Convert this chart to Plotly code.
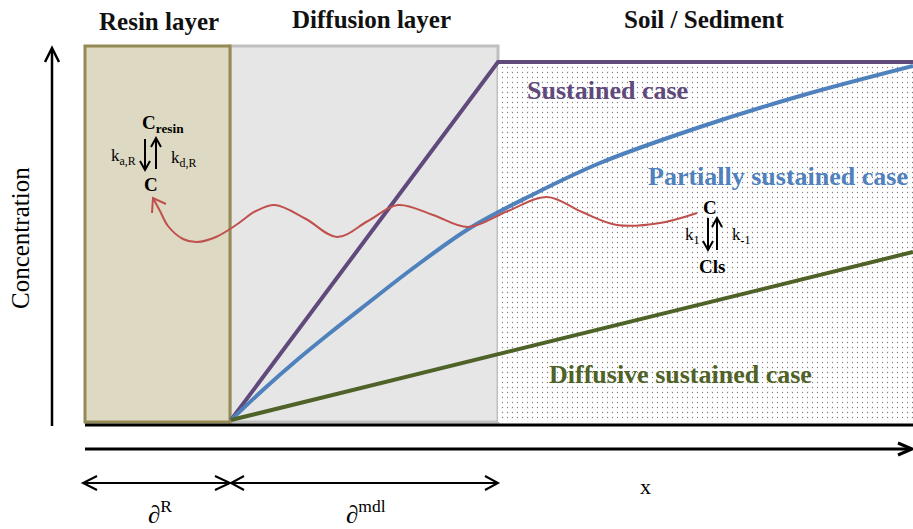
import plotly.graph_objects as go

# ---------------- data (diagram units, y grows downward) ----------------
layer_edges_x = [85, 230, 498, 913]          # resin | diffusion | soil
layer_top_y = 46
layer_bottom_y = 422
soil_top_y = 63

sustained_x = [231, 498, 913]
sustained_y = [420, 62, 62]

partial_x = [231, 264, 297, 330, 363, 416, 470, 530, 600, 700, 800, 913]
partial_y = [420, 389, 360, 333, 307, 266, 228, 196, 163, 127, 96, 66]

diffusive_x = [231, 913]
diffusive_y = [420, 252]

wave_x = [153, 160, 168, 183, 197, 216, 236, 256, 275, 306, 337, 368, 398, 433, 468, 508, 547, 582, 617, 660, 697]
wave_y = [198, 211, 226, 239, 242, 237, 225, 211, 205, 219, 237, 221, 205, 215, 227, 211, 197, 212, 225, 223, 213]

headers = ["Resin layer", "Diffusion layer", "Soil / Sediment"]
header_x = [159, 371, 704]
header_y = [21, 19, 19]

case_labels = ["Sustained case", "Partially sustained case", "Diffusive sustained case"]
case_x = [607, 778, 680]
case_y = [90, 176, 374]

PURPLE = "#604A7B"
BLUE = "#4F81BD"
GREEN = "#4F6228"
RED = "#C0504D"
FONT = "Liberation Serif"

fig = go.Figure()

# soil / sediment dotted region
sx0, sx1 = layer_edges_x[2], layer_edges_x[3]
fig.add_trace(go.Scatter(
    x=[sx0, sx1, sx1, sx0, sx0],
    y=[soil_top_y, soil_top_y, layer_bottom_y, layer_bottom_y, soil_top_y],
    mode="lines", line=dict(width=0), fill="toself", fillcolor="white",
    fillpattern=dict(shape=".", size=5, solidity=0.05, fgcolor="#000000", bgcolor="white"),
    hoverinfo="skip", showlegend=False))

# layer rectangles
fig.add_shape(type="rect", x0=layer_edges_x[1], x1=layer_edges_x[2], y0=layer_top_y, y1=layer_bottom_y,
              line=dict(color="#BFBFBF", width=3), fillcolor="#E6E6E6", layer="below")
fig.add_shape(type="rect", x0=layer_edges_x[0], x1=layer_edges_x[1], y0=layer_top_y, y1=layer_bottom_y,
              line=dict(color="#948A54", width=3), fillcolor="#DDD9C3", layer="below")

# concentration profiles
fig.add_trace(go.Scatter(x=sustained_x, y=sustained_y, mode="lines",
                         line=dict(color=PURPLE, width=4), hoverinfo="skip", showlegend=False))
fig.add_trace(go.Scatter(x=partial_x, y=partial_y, mode="lines", line_shape="spline",
                         line=dict(color=BLUE, width=4), hoverinfo="skip", showlegend=False))
fig.add_trace(go.Scatter(x=diffusive_x, y=diffusive_y, mode="lines",
                         line=dict(color=GREEN, width=4), hoverinfo="skip", showlegend=False))
# red transport wave
fig.add_trace(go.Scatter(x=wave_x, y=wave_y, mode="lines", line_shape="spline",
                         line=dict(color=RED, width=2), hoverinfo="skip", showlegend=False))
fig.add_trace(go.Scatter(x=[wave_x[0] + 13, wave_x[0], wave_x[0] - 1],
                         y=[wave_y[0] + 6, wave_y[0], wave_y[0] + 15], mode="lines",
                         line=dict(color=RED, width=2), hoverinfo="skip", showlegend=False))


def line(x0, y0, x1, y1, w=2, color="black"):
    fig.add_shape(type="line", x0=x0, y0=y0, x1=x1, y1=y1, line=dict(color=color, width=w))


def chevron(tx, ty, dx, dy, w=2, color="black"):
    # tip at (tx,ty); arms go back to (tx+dx, ty+dy) and mirrored
    if abs(dx) > abs(dy):
        p = f"M {tx+dx},{ty-abs(dy)} L {tx},{ty} L {tx+dx},{ty+abs(dy)}"
    else:
        p = f"M {tx-abs(dx)},{ty+dy} L {tx},{ty} L {tx+abs(dx)},{ty+dy}"
    fig.add_shape(type="path", path=p, line=dict(color=color, width=w))


# axes
line(52, 426, 52, 49, w=2.5)
chevron(52, 48, 7, 14, w=2.5)
line(85, 425, 913, 425, w=3)
line(85, 449, 911, 449, w=3)
chevron(912, 449, -14, 6, w=3)

# bottom thickness arrows
line(84, 483, 229, 483)
chevron(83, 483, 14, 7)
chevron(230, 483, -15, 7)
line(231, 483, 497, 483)
chevron(231, 483, 13, 7)
chevron(498, 483, -13, 7)

# reaction arrows (resin)
line(145, 139, 145, 169)
chevron(145, 170, 5, -9)
line(156, 139, 156, 169)
chevron(156, 138, 5, 9)
# reaction arrows (soil)
line(708, 218, 708, 249)
chevron(708, 250, 5, -9)
line(717, 219, 717, 250)
chevron(717, 218, 5, 9)

anns = []
for t, x, y in zip(headers, header_x, header_y):
    anns.append(dict(x=x, y=y, text=f"<b>{t}</b>", font=dict(size=25, color="#111111")))
for t, x, y, c in zip(case_labels, case_x, case_y, [PURPLE, BLUE, GREEN]):
    anns.append(dict(x=x, y=y, text=f"<b>{t}</b>", font=dict(size=26, color=c)))

small = [
    ("<b>C<sub>resin</sub></b>", 163, 124, 19),
    ("<b>C</b>", 151, 184, 19),
    ("k<sub>a,R</sub>", 123, 157, 17),
    ("k<sub>d,R</sub>", 183, 159, 17),
    ("<b>C</b>", 710, 207, 19),
    ("<b>Cls</b>", 712, 266, 19),
    ("k<sub>1</sub>", 692, 236, 17),
    ("k<sub>-1</sub>", 741, 236, 17),
    ("x", 645, 486, 22),
    ("∂<sup>R</sup>", 160, 512, 25),
    ("∂<sup>mdl</sup>", 366, 512, 25),
]
for t, x, y, s in small:
    anns.append(dict(x=x, y=y, text=t, font=dict(size=s, color="black")))
anns.append(dict(x=20, y=238, text="Concentration", textangle=-90, font=dict(size=25, color="black")))

for a in anns:
    a.update(xref="x", yref="y", showarrow=False, xanchor="center", yanchor="middle")
    a["font"]["family"] = FONT

fig.update_layout(
    width=913, height=529, margin=dict(l=0, r=0, t=0, b=0),
    paper_bgcolor="white", plot_bgcolor="white",
    xaxis=dict(range=[0, 913], visible=False, fixedrange=True),
    yaxis=dict(range=[529, 0], visible=False, fixedrange=True),
    annotations=anns, showlegend=False,
)

fig.write_html("out.html")
